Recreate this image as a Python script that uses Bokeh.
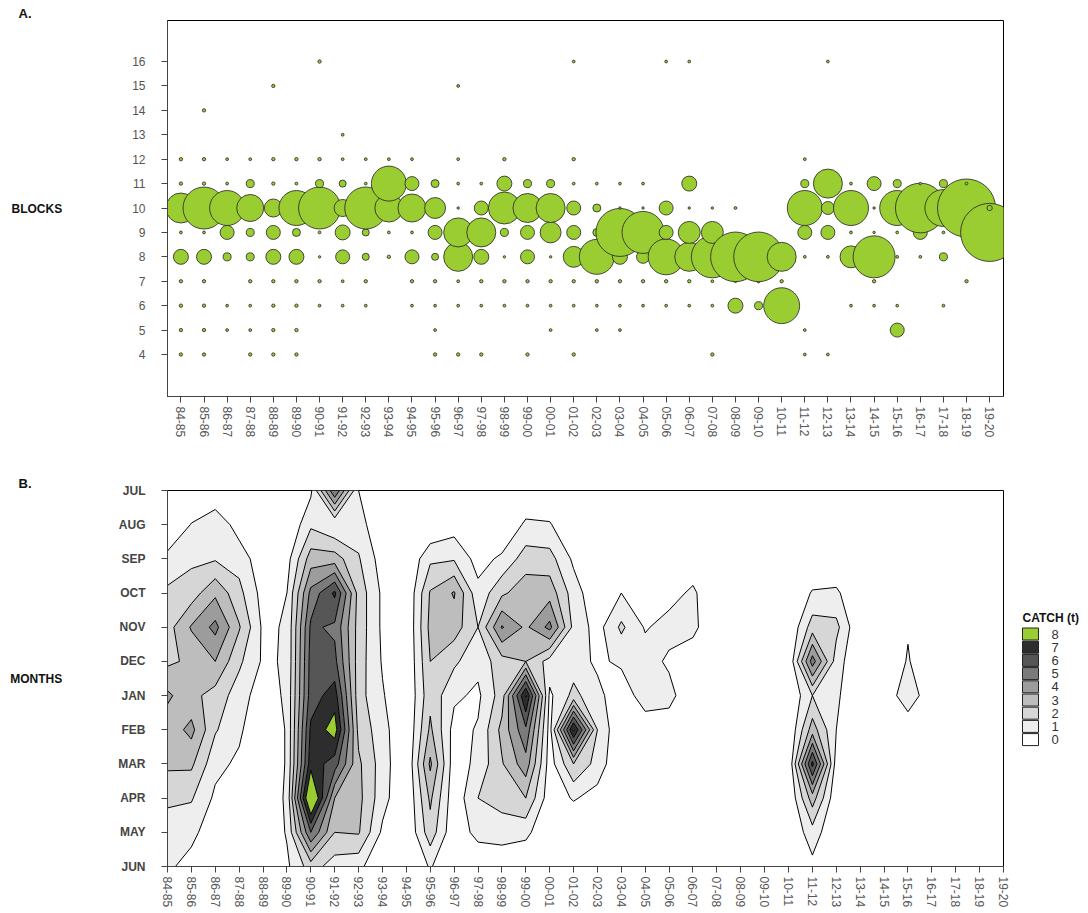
import numpy as np
from bokeh.plotting import figure
from bokeh.models import Range1d, FixedTicker, ColumnDataSource
from bokeh.layouts import column, row
from bokeh.embed import file_html
from bokeh.resources import INLINE
from bokeh.core.properties import value

FONT = "Liberation Sans"

seasons = ["84-85", "85-86", "86-87", "87-88", "88-89", "89-90", "90-91", "91-92",
           "92-93", "93-94", "94-95", "95-96", "96-97", "97-98", "98-99", "99-00",
           "00-01", "01-02", "02-03", "03-04", "04-05", "05-06", "06-07", "07-08",
           "08-09", "09-10", "10-11", "11-12", "12-13", "13-14", "14-15", "15-16",
           "16-17", "17-18", "18-19", "19-20"]
blocks = [4, 5, 6, 7, 8, 9, 10, 11, 12, 13, 14, 15, 16]
months = ["JUL", "AUG", "SEP", "OCT", "NOV", "DEC", "JAN", "FEB", "MAR", "APR", "MAY", "JUN"]

# ---- Panel A: catch (t) by season and block ----
bubble_season = (
    ["84-85"] * 9 + ["85-86"] * 10 + ["86-87"] * 7 + ["87-88"] * 9 + ["88-89"] * 10 +
    ["89-90"] * 9 + ["90-91"] * 8 + ["91-92"] * 8 + ["92-93"] * 7 + ["93-94"] * 5 +
    ["94-95"] * 7 + ["95-96"] * 8 + ["96-97"] * 9 + ["97-98"] * 7 + ["98-99"] * 7 +
    ["99-00"] * 7 + ["00-01"] * 7 + ["01-02"] * 9 + ["02-03"] * 7 + ["03-04"] * 7 +
    ["04-05"] * 6 + ["05-06"] * 6 + ["06-07"] * 7 + ["07-08"] * 6 + ["08-09"] * 4 +
    ["09-10"] * 3 + ["10-11"] * 3 + ["11-12"] * 7 + ["12-13"] * 6 + ["13-14"] * 5 +
    ["14-15"] * 6 + ["15-16"] * 6 + ["16-17"] * 4 + ["17-18"] * 5 + ["18-19"] * 3 +
    ["19-20"] * 2
)
bubble_block = (
    [4, 5, 6, 7, 8, 9, 10, 11, 12] +
    [4, 5, 6, 7, 8, 9, 10, 11, 12, 14] +
    [5, 6, 8, 9, 10, 11, 12] +
    [4, 5, 6, 7, 8, 9, 10, 11, 12] +
    [4, 5, 6, 7, 8, 9, 10, 11, 12, 15] +
    [4, 5, 6, 7, 8, 9, 10, 11, 12] +
    [6, 7, 8, 9, 10, 11, 12, 16] +
    [6, 7, 8, 9, 10, 11, 12, 13] +
    [6, 7, 8, 9, 10, 11, 12] +
    [8, 9, 10, 11, 12] +
    [6, 7, 8, 9, 10, 11, 12] +
    [4, 5, 6, 7, 8, 9, 10, 11] +
    [4, 6, 7, 8, 9, 10, 11, 12, 15] +
    [4, 6, 7, 8, 9, 10, 11] +
    [6, 7, 8, 9, 10, 11, 12] +
    [4, 6, 7, 8, 9, 10, 11] +
    [5, 6, 7, 8, 9, 10, 11] +
    [4, 6, 7, 8, 9, 10, 11, 12, 16] +
    [5, 6, 7, 8, 9, 10, 11] +
    [5, 6, 7, 8, 9, 10, 11] +
    [6, 7, 8, 9, 10, 11] +
    [6, 7, 8, 9, 10, 16] +
    [6, 7, 8, 9, 10, 11, 16] +
    [4, 6, 7, 8, 9, 10] +
    [6, 7, 8, 10] +
    [6, 7, 8] +
    [6, 7, 8] +
    [4, 5, 8, 9, 10, 11, 12] +
    [4, 8, 9, 10, 11, 16] +
    [6, 8, 9, 10, 11] +
    [6, 7, 8, 9, 10, 11] +
    [5, 6, 8, 9, 10, 11] +
    [8, 9, 10, 11] +
    [6, 8, 9, 10, 11] +
    [7, 10, 11] +
    [9, 10]
)
bubble_catch = (
    [0.1, 0.1, 0.1, 0.1, 2.0, 0.07, 8.0, 0.1, 0.1] +
    [0.1, 0.1, 0.1, 0.1, 2.0, 0.07, 15.7, 0.1, 0.1, 0.1] +
    [0.07, 0.07, 0.57, 1.75, 10.9, 0.07, 0.07] +
    [0.1, 0.07, 0.07, 0.1, 0.57, 0.57, 6.5, 0.57, 0.07] +
    [0.1, 0.1, 0.1, 0.1, 2.0, 1.75, 2.9, 0.1, 0.1, 0.1] +
    [0.1, 0.1, 0.1, 0.1, 2.0, 0.57, 10.9, 0.07, 0.1] +
    [0.07, 0.1, 0.05, 0.07, 15.7, 0.57, 0.1, 0.1] +
    [0.07, 0.07, 1.75, 2.0, 2.6, 0.44, 0.07, 0.07] +
    [0.07, 0.1, 0.44, 0.44, 15.7, 0.07, 0.07] +
    [0.1, 0.07, 7.0, 10.9, 0.07] +
    [0.07, 0.1, 1.75, 0.07, 7.0, 1.75, 0.07] +
    [0.1, 0.07, 0.07, 0.1, 0.44, 1.75, 3.9, 0.57] +
    [0.1, 0.07, 0.07, 7.5, 7.5, 0.05, 0.07, 0.07, 0.07] +
    [0.1, 0.07, 0.1, 2.0, 7.5, 1.75, 0.07] +
    [0.07, 0.1, 0.05, 0.57, 9.1, 2.0, 0.1] +
    [0.1, 0.07, 0.1, 1.75, 1.75, 7.5, 0.57] +
    [0.07, 0.07, 0.1, 0.05, 3.9, 7.5, 0.57] +
    [0.1, 0.07, 0.1, 3.9, 1.75, 1.75, 0.07, 0.1, 0.07] +
    [0.07, 0.07, 0.1, 10.9, 0.57, 0.57, 0.07] +
    [0.07, 0.07, 0.1, 2.0, 20.5, 0.05, 0.07] +
    [0.07, 0.1, 1.5, 15.7, 0.05, 0.07] +
    [0.07, 0.1, 11.5, 1.75, 1.75, 0.07] +
    [0.07, 0.1, 7.5, 4.3, 0.05, 2.0, 0.07] +
    [0.1, 0.07, 0.07, 15.7, 4.3, 0.05] +
    [2.0, 0.07, 22.0, 0.07] +
    [0.57, 0.1, 22.0] +
    [11.5, 0.1, 7.5] +
    [0.07, 0.07, 0.07, 1.75, 10.9, 0.57, 0.07] +
    [0.07, 0.07, 1.75, 1.5, 7.5, 0.07] +
    [0.07, 4.3, 0.07, 10.9, 0.07] +
    [0.07, 0.1, 15.7, 0.05, 0.05, 1.75] +
    [1.75, 0.07, 0.07, 0.07, 10.9, 0.57] +
    [0.07, 1.75, 22.0, 0.05] +
    [0.07, 0.57, 0.07, 12.2, 0.57] +
    [0.1, 30.0, 0.07] +
    [30.0, 0.25]
)

# ---- Panel B: monthly catch (t) by season, JUL..JUN ----
monthly_catch = [
    [0, 0, 1.3, 2.2, 2.6, 2.8, 4.2, 3.4, 3.2, 2.2, 1.5, 1.2],      # 84-85
    [0, 1.05, 1.8, 2.5, 4.1, 3.2, 3.3, 4.3, 3.2, 2.1, 1.3, 0.6],   # 85-86
    [0, 1.8, 1.9, 3.8, 5.3, 4.0, 2.6, 2.1, 1.3, 0.8, 0.3, 0],      # 86-87
    [0, 0.5, 1.6, 2.3, 3.1, 2.2, 1.5, 1.2, 0.8, 0.4, 0, 0],        # 87-88
    [0, 0, 0.3, 0.6, 0.8, 0.85, 0.4, 0, 0, 0, 0, 0],               # 88-89
    [0, 0, 0.6, 1.0, 1.1, 1.1, 1.2, 1.1, 1.1, 1.2, 1.1, 0.8],      # 89-90
    [0.8, 1.8, 3.5, 5.3, 6.2, 6.4, 6.5, 7.2, 7.6, 9.8, 6.0, 2.5],  # 90-91
    [6.0, 1.0, 3.5, 7.2, 5.8, 6.3, 7.5, 8.5, 6.5, 4.0, 3.0, 1.5],  # 91-92
    [1.0, 1.5, 2.1, 2.6, 2.6, 2.5, 2.4, 2.7, 3.2, 3.3, 3.1, 1.3],  # 92-93
    [0, 0, 0.5, 0.8, 0.8, 0.9, 1.1, 1.4, 1.5, 1.4, 0.8, 0],        # 93-94
    [0, 0, 0, 0, 0, 0, 0, 0, 0, 0, 0, 0],                          # 94-95
    [0, 0, 1.8, 3.1, 3.3, 3.0, 2.7, 3.2, 4.2, 3.2, 2.6, 1.1],      # 95-96
    [0, 0.5, 1.9, 4.1, 3.5, 2.2, 1.2, 0.6, 0.4, 0.3, 0.2, 0],      # 96-97
    [0, 0, 0.6, 1.3, 2.0, 1.3, 0.8, 1.1, 1.3, 2.0, 1.4, 0],        # 97-98
    [0, 0, 1.2, 2.8, 5.1, 2.6, 2.5, 3.3, 2.9, 2.3, 1.6, 0],        # 98-99
    [0, 1.2, 2.5, 3.6, 3.8, 3.0, 8.1, 5.8, 4.6, 3.0, 1.3, 0],      # 99-00
    [0, 1.1, 2.4, 3.6, 5.3, 1.6, 0.8, 0.6, 0.5, 0.4, 0, 0],        # 00-01
    [0, 0, 0.8, 1.5, 1.7, 1.5, 2.3, 8.2, 3.0, 1.1, 0, 0],          # 01-02
    [0, 0, 0, 0.2, 0.6, 0.8, 1.3, 2.0, 1.6, 0.6, 0, 0],            # 02-03
    [0, 0, 0, 1.0, 2.2, 1.2, 0.3, 0, 0, 0, 0, 0],                  # 03-04
    [0, 0, 0, 0.3, 0.9, 1.5, 1.6, 0.3, 0, 0, 0, 0],                # 04-05
    [0, 0, 0, 0.6, 1.4, 0.8, 1.4, 0.3, 0, 0, 0, 0],                # 05-06
    [0, 0, 0.3, 1.2, 1.3, 0.3, 0, 0, 0, 0, 0, 0],                  # 06-07
    [0, 0, 0, 0, 0, 0, 0, 0, 0, 0, 0, 0],                          # 07-08
    [0, 0, 0, 0, 0, 0, 0, 0, 0, 0, 0, 0],                          # 08-09
    [0, 0, 0, 0, 0, 0, 0, 0, 0, 0, 0, 0],                          # 09-10
    [0, 0, 0, 0, 0, 0, 0, 0, 0, 0, 0, 0],                          # 10-11
    [0, 0, 0, 1.1, 2.5, 5.5, 2.0, 3.5, 7.3, 3.5, 1.6, 0.7],        # 11-12
    [0, 0, 0, 1.2, 2.3, 1.5, 1.2, 1.0, 0.5, 0.2, 0, 0],            # 12-13
    [0, 0, 0, 0, 0, 0, 0, 0, 0, 0, 0, 0],                          # 13-14
    [0, 0, 0, 0, 0, 0, 0, 0, 0, 0, 0, 0],                          # 14-15
    [0, 0, 0, 0, 0.9, 1.1, 1.9, 0, 0, 0, 0, 0],                    # 15-16
    [0, 0, 0, 0, 0, 0, 0, 0, 0, 0, 0, 0],                          # 16-17
    [0, 0, 0, 0, 0, 0, 0, 0, 0, 0, 0, 0],                          # 17-18
    [0, 0, 0, 0, 0, 0, 0, 0, 0, 0, 0, 0],                          # 18-19
    [0, 0, 0, 0, 0, 0, 0, 0, 0, 0, 0, 0],                          # 19-20
]
catch_levels = [1, 2, 3, 4, 5, 6, 7, 8, 12]
legend_labels = ["8", "7", "6", "5", "4", "3", "2", "1", "0"]
band_colors = ["#eeeeee", "#d6d6d6", "#bdbdbd", "#9c9c9c", "#7b7b7b",
               "#565656", "#2d2d2d", "#9acd32"]

GREEN = "#9acd32"


def style_axes(p, ylabels_bold):
    p.outline_line_color = "black"
    p.outline_line_width = 1
    p.xgrid.grid_line_color = None
    p.ygrid.grid_line_color = None
    for ax in (p.xaxis[0], p.yaxis[0]):
        ax.axis_line_color = "#444444"
        ax.major_tick_line_color = "#444444"
        ax.major_tick_out = 6
        ax.major_tick_in = 0
        ax.minor_tick_line_color = None
        ax.major_label_text_font = FONT
        ax.major_label_text_font_size = "12px"
        ax.major_label_text_color = "#555555"
    p.xaxis.major_label_orientation = "vertical"
    p.xaxis.major_label_standoff = 4
    p.yaxis.major_label_standoff = 16
    p.yaxis.axis_label_orientation = "horizontal"
    p.yaxis.axis_label_text_font = FONT
    p.yaxis.axis_label_text_font_style = "bold"
    p.yaxis.axis_label_text_font_size = "12px"
    p.yaxis.axis_label_text_color = "#111111"
    p.title.text_font = FONT
    p.title.text_font_style = "bold"
    p.title.text_font_size = "13px"
    p.title.text_color = "#111111"
    p.title.align = "left"
    p.title.standoff = 0
    p.title.offset = -149
    if ylabels_bold:
        p.yaxis.major_label_text_font_style = "bold"
        p.yaxis.major_label_text_color = "#444444"


# ---------------- Panel A ----------------
pA = figure(width=1088, height=460, x_range=Range1d(-0.58, 35.6), y_range=Range1d(2.28, 17.68),
            output_backend="svg", toolbar_location=None, title="A.",
            min_border_left=167, min_border_right=85, min_border_top=20, min_border_bottom=64)
style_axes(pA, False)
pA.xaxis.ticker = FixedTicker(ticks=list(range(len(seasons))))
pA.xaxis.major_label_overrides = {i: s for i, s in enumerate(seasons)}
pA.yaxis.ticker = FixedTicker(ticks=blocks)
pA.yaxis.axis_label = "BLOCKS"
pA.yaxis.axis_label_standoff = 67

sidx = {s: i for i, s in enumerate(seasons)}
bx = [sidx[s] for s in bubble_season]
bsize = [max(10.6 * np.sqrt(c), 2.4) for c in bubble_catch]
srcA = ColumnDataSource(dict(x=bx, y=bubble_block, size=bsize, catch=bubble_catch))
pA.scatter(x="x", y="y", size="size", source=srcA, marker="circle",
           fill_color=GREEN, line_color="#222222", line_width=0.8)

# ---------------- Panel B ----------------
pB = figure(width=1010, height=453, x_range=Range1d(0, 35), y_range=Range1d(11, 0),
            output_backend="svg", toolbar_location=None, title="B.",
            min_border_left=167, min_border_right=7, min_border_top=30, min_border_bottom=47)
style_axes(pB, True)
pB.xaxis.ticker = FixedTicker(ticks=list(range(len(seasons))))
pB.xaxis.major_label_overrides = {i: s for i, s in enumerate(seasons)}
pB.yaxis.ticker = FixedTicker(ticks=list(range(12)))
pB.yaxis.major_label_overrides = {i: m for i, m in enumerate(months)}
pB.yaxis.axis_label = "MONTHS"
pB.yaxis.axis_label_standoff = 53

z = np.array(monthly_catch, dtype=float).T  # shape (12 months, 36 seasons)
xs = np.arange(len(seasons), dtype=float)
ys = np.arange(len(months), dtype=float)
pB.contour(xs, ys, z, catch_levels, fill_color=band_colors,
           line_color="black", line_width=1)

# ---------------- Legend (its frame is aligned with panel B's frame) ----------------
pL = figure(width=78, height=453, x_range=Range1d(1010, 1088), y_range=Range1d(866, 490),
            output_backend="svg", toolbar_location=None, x_axis_type=None, y_axis_type=None,
            min_border_left=0, min_border_right=0, min_border_top=30, min_border_bottom=47)
pL.outline_line_color = None
pL.xgrid.grid_line_color = None
pL.ygrid.grid_line_color = None
leg_colors = [GREEN] + band_colors[:-1][::-1] + ["#ffffff"]
leg_y = [633.5 + 13.2 * k for k in range(len(legend_labels))]
pL.rect(x=[1030] * len(leg_y), y=leg_y, width=16, height=12, fill_color=leg_colors,
        line_color="#222222", line_width=1)
pL.text(x=[1051] * len(leg_y), y=leg_y, text=legend_labels, text_font=value(FONT),
        text_font_size="13px", text_baseline="middle", text_align="left", text_color="#333333")
pL.text(x=[1022], y=[617], text=["CATCH (t)"], text_font=value(FONT), text_font_style="bold",
        text_font_size="12px", text_baseline="middle", text_align="left", text_color="#111111")

layout = column(pA, row(pB, pL))
open("out.html", "w").write(file_html(layout, INLINE))
